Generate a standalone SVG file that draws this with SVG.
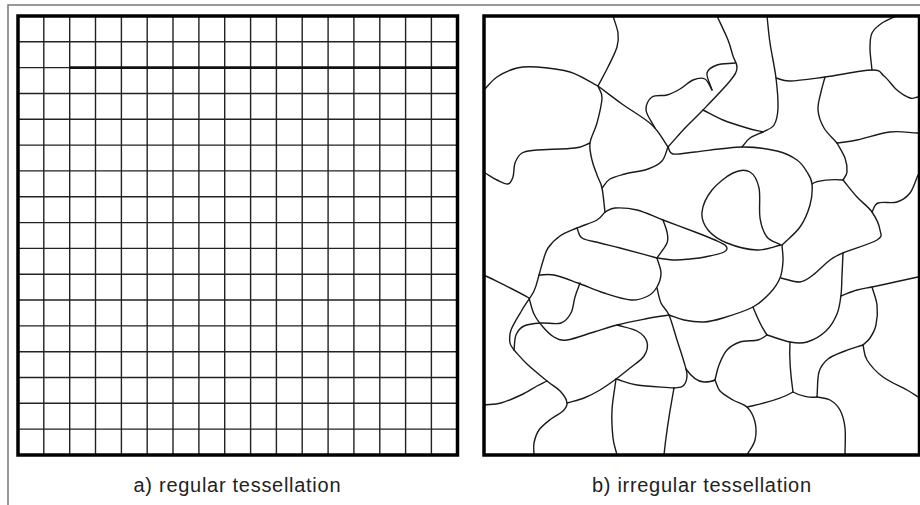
<svg xmlns="http://www.w3.org/2000/svg" width="920" height="505" viewBox="0 0 920 505">
<style>
.frame{fill:none;stroke:#777;stroke-width:1.5}
.border{fill:none;stroke:#000;stroke-width:3.5}
.grid{fill:none;stroke:#222;stroke-width:1.4}
.thick{fill:none;stroke:#111;stroke-width:2.6}
.edge{fill:none;stroke:#1a1a1a;stroke-width:1.4;stroke-linecap:round;stroke-linejoin:round}
.label{font-family:"Liberation Sans",Arial,Helvetica,sans-serif;font-size:20px;fill:#222;text-anchor:middle}
</style>
<rect width="920" height="505" fill="#fff"/>
<g id="frame"><path class="frame" d="M8,505V5H920"/></g>
<g id="panel-a">
<path class="grid" d="M43.8,16V455M69.7,16V455M95.5,16V455M121.4,16V455M147.2,16V455M173,16V455M198.9,16V455M224.7,16V455M250.6,16V455M276.4,16V455M302.2,16V455M328.1,16V455M353.9,16V455M379.8,16V455M405.6,16V455M431.4,16V455M18,41.8H457M18,67.6H457M18,93.5H457M18,119.3H457M18,145.1H457M18,170.9H457M18,196.7H457M18,222.6H457M18,248.4H457M18,274.2H457M18,300H457M18,325.9H457M18,351.7H457M18,377.5H457M18,403.3H457M18,429.1H457"/>
<path class="thick" d="M69.7,67.6H457"/>
<rect class="border" x="18" y="16" width="439.5" height="439"/>
</g>
<g id="panel-b">
<g id="edges">
<path class="edge" d="M613,16 C614.7,21.7 617.3,27.8 618,33 S618.7,41.3 617,47 S611.2,60.5 608,67 S601.3,79.7 598,86"/>
<path class="edge" d="M484,90 C488.3,85.7 491.5,80.7 497,77 S510.3,69.7 517,68 S528.2,66.3 537,67 S559.8,68.8 570,72 S588.7,81.3 598,86"/>
<path class="edge" d="M598,86 C599.3,90 602.2,91.8 602,98 S599,115.5 597,123 S590.8,136.8 590,143 S590.8,154.7 592,160 S595.3,170.3 597,175 S600.7,181.8 602,188 S604,204 605,212"/>
<path class="edge" d="M590,143 C585,144.7 583.8,146.8 575,148 S545.8,149.2 537,150 S525.7,150.8 522,153 S516.5,159 515,163 S514.2,173.5 513,177 S510.7,183.5 508,184 S500.8,181.8 497,180 S489,175.3 485,173"/>
<path class="edge" d="M598,86 C606,92 613,97.5 622,104 S644.3,117.8 652,125 S662.7,139.7 668,147"/>
<path class="edge" d="M735,63 C729,63.7 721.7,63.3 717,65 S707.8,68.8 707,73 S710.3,84.3 712,90"/>
<path class="edge" d="M712,90 C709.7,86.3 708.2,80.7 705,79 S697.2,78.3 693,80 S684.3,86.5 680,89 S671.7,93.7 667,95 S655.5,94.5 652,97 S645.5,104.8 646,110 S652,122 655,128"/>
<path class="edge" d="M717,16 C720.7,24 725.3,33.3 728,40 S731.5,51.3 733,56 S737.5,63.8 737,68 S735.7,74 730,81 S710.5,102.2 703,110 S690.8,121.8 685,128 S673.7,140.7 668,147"/>
<path class="edge" d="M703,110 C709.7,113.3 715.7,117 723,120 S740.3,126 747,128 S757.7,130.7 763,132"/>
<path class="edge" d="M763,132 C758.7,134 753.5,135.5 750,138 S744.7,144 742,147"/>
<path class="edge" d="M668,147 C669.7,149.3 668.5,153.2 673,154 S683.5,153.2 695,152 S728.3,147.2 742,147 S767.8,148.8 777,151 S792,156.5 797,160 S804.5,168 807,172 S811.5,178.5 812,184 S812,197.8 810,205 S804.7,220.3 800,227 S788,239 782,245"/>
<path class="edge" d="M812,184 C817,180 833,179 843,180"/>
<path class="edge" d="M837,143 C839.7,148 843.3,153.2 845,158 S847.3,168.3 847,172 S844.3,177.3 843,180"/>
<path class="edge" d="M843,180 C847.7,185.7 852.2,191.7 857,197 S868.2,206.5 872,212 S879.2,225.3 880,230 S883.2,236.2 877,240 S850.8,249.7 843,253 S835,256.3 830,260 S818,271.3 813,275 S805.3,281.5 800,282 S787.3,279.3 781,278"/>
<path class="edge" d="M872,212 C874,209 873.8,204.7 878,203 S891.7,203.7 897,202 S906.5,197.5 910,193 S915.3,181 918,175"/>
<path class="edge" d="M663,220 C664.3,224 666.3,228.2 667,232 S668.7,238.7 667,243 S660.3,253 657,258"/>
<path class="edge" d="M668,147 C666,151.7 665.3,157.3 662,161 S654.2,166.8 648,169 S631.3,172.3 625,174 S613.8,176.7 610,179 S604.7,185 602,188"/>
<path class="edge" d="M605,212 C608.3,210.7 609.7,208.3 615,208 S629,208 637,210 S653.3,216.3 663,220 S686.3,228.7 695,232 S709.8,237.7 715,240 S724.5,244 726,246 S727.5,250.2 724,252 S710.7,255.8 705,257 S695,258.5 690,259 S680.5,260.2 675,260 S663,258.7 657,258"/>
<path class="edge" d="M605,212 C602.3,214.7 601.7,217.3 597,220 S583.2,225.3 577,228 S564.8,232.7 560,236 S550.8,243.8 548,248 S544.5,256.5 543,261 S540.5,270 539,275 S536.8,285.2 534,291 S525.8,303.5 522,310 S513,324.5 511,330 S509.5,339.7 510,343 S512.7,347.7 514,350"/>
<path class="edge" d="M514,350 C518.3,354.7 521.5,358.8 527,364 S541.3,376.3 547,381 S557.7,388.3 561,392 S566.7,399.8 567,403 S565.7,408.3 563,411 S555,415.8 551,419 S541.8,426 539,430 S534.8,438.8 534,443 S534,451 534,455"/>
<path class="edge" d="M577,228 C578.7,231.3 578.2,235.5 582,238 S593.7,241.3 600,243 S610.5,245.5 620,248 S644.7,254.7 657,258"/>
<path class="edge" d="M539,275 C544,275 547.5,273.7 554,275 S569.7,280 578,283 S595.2,290.2 604,293 S623.7,299.5 631,300 S643.7,298.2 648,296 S654.8,290.8 657,287 S661,277.8 661,273 S658.3,263 657,258"/>
<path class="edge" d="M657,288 C658.3,293 659,298.5 661,303 S666.3,308.8 669,315 S674.5,332.2 677,340 S682.3,356 684,362 S687.2,372 687,376 S685.2,384 683,386 S677,387.3 674,388"/>
<path class="edge" d="M686,369 C691,376 697,382 704,382 C709,382 713,381 715,380"/>
<path class="edge" d="M484,275 C500,283 515,290 529,298"/>
<path class="edge" d="M529,298 C530.7,303.3 531.7,309.2 534,314 S539.7,323.2 543,327 S550,334.8 554,337 S560.3,340.8 567,340 S585.7,334.5 594,332 S608.5,327.2 617,325 S636.3,320.7 645,319 S661,316.3 669,315"/>
<path class="edge" d="M580,283 C578.3,287.7 576.5,292 575,297 S573.3,308.7 571,313 S566,321.3 561,323 S547.2,322.5 541,323 S528.2,324 524,326 S517.7,331 516,335 S514.7,345 514,350"/>
<path class="edge" d="M617,325 C623.7,327 632,328.2 637,331 S645.8,337.8 647,342 S646.8,351.7 644,356 S634.7,364.2 630,368 S621,375.3 616,379 S605.3,386.8 600,390 S589.5,395.8 584,398 S572.7,401.3 567,403"/>
<path class="edge" d="M484,405 C489.7,404.3 494.8,404.7 501,403 S515,397.8 521,395 S532.7,388.3 537,386 S543.7,382.7 547,381"/>
<path class="edge" d="M616,379 C614.7,389.3 612.5,400.2 612,410 S612.2,430.5 613,438 S615.7,449.3 617,455"/>
<path class="edge" d="M616,379 C623,381 627.3,383.5 637,385 S661.7,387 674,388"/>
<path class="edge" d="M674,388 C671,405 667,425 664,455"/>
<path class="edge" d="M669,315 C674,316.7 678.2,318.8 684,320 S697.5,322.3 704,322 S714.8,320.5 723,318 S745.2,311.2 753,307 S765.5,297.8 770,293 S777.8,283.3 780,278 S782.7,266.5 783,261 S782.3,250.3 782,245"/>
<path class="edge" d="M781,245 C776.3,242.3 770.5,241.5 767,237 S761.3,226.2 760,218 S760.7,195.7 759,188 S754.3,174.5 750,172 S739.3,170 733,173 S717.2,183.5 712,190 S702.7,205.3 702,212 S703.8,224.8 708,230 S718.8,239.7 727,243 S748,249.7 757,250 S773,246.7 781,245"/>
<path class="edge" d="M753,307 C757,317 760,325 767,335"/>
<path class="edge" d="M767,335 C774.7,337.3 783.3,340.8 790,342 S801,343.8 807,342 S821,335.7 826,331 S834.5,320 837,314 S840.2,301.5 841,295 S841.7,282 842,275 S842.7,260.3 843,253"/>
<path class="edge" d="M767,335 C764,336.7 762.5,338.8 758,340 S745.2,340.3 740,342 S730.5,346.2 727,350 S721,360 719,365 S716.3,375 715,380"/>
<path class="edge" d="M715,380 C716.7,383.7 717,387.7 720,391 S728.5,397.3 733,400 S743.3,403.3 747,407 S753.7,416.5 755,422 S756.3,434.5 755,440 S749.7,450 747,455"/>
<path class="edge" d="M747,407 C760,404 778,401 793,392"/>
<path class="edge" d="M793,392 C800,396 810,398 817,397"/>
<path class="edge" d="M790,342 C789,358 791,378 793,392"/>
<path class="edge" d="M817,397 C817.7,388.7 817.2,378.3 819,372 S823.7,362.5 828,359 S839.2,353.3 845,351 S857,347 863,345"/>
<path class="edge" d="M817,397 C821.3,398 826.2,397.8 830,400 S837.5,405.3 840,410 S844.2,420.5 845,428 S845,446 845,455"/>
<path class="edge" d="M863,345 C864.3,350 863.7,354.7 867,360 S876.3,372 883,377 S901.2,386.7 907,390 S914.3,394.7 918,397"/>
<path class="edge" d="M872,287 C873.7,293 876.3,298.7 877,305 S877.2,319.5 876,325 S872.2,334.7 870,338 S865.3,342.7 863,345"/>
<path class="edge" d="M841,296 C846.3,294 851.8,291.5 857,290 S865.7,288.3 872,287 S887.3,283.7 895,282 S910.3,278.7 918,277"/>
<path class="edge" d="M837,143 C843.7,142 848.2,141.8 857,140 S879.8,133.2 890,132 S908.7,132.7 918,133"/>
<path class="edge" d="M837,143 C832.7,138 827.2,133.5 824,128 S818.5,116 818,110 S819.8,97.5 821,92 S823.7,82 825,77"/>
<path class="edge" d="M776,78 C780.7,79 781.8,81.2 790,81 S811.3,78.8 825,77 S862.2,70.2 872,70 S879.8,72.7 884,76 S892.7,86.3 897,90 S906.5,96.8 910,98 S915.3,97.3 918,97"/>
<path class="edge" d="M872,70 C871.3,62.7 870,54.2 870,48 S870,37.2 872,33 S878,25.8 882,23 S891.3,18.3 896,16"/>
<path class="edge" d="M767,16 C768,25 768.5,32.7 770,43 S774.7,67.2 776,78 S778.3,100.2 778,108 S776.5,121 774,125 S766.7,129.7 763,132"/>
</g>
<rect class="border" x="484" y="16" width="435.5" height="439"/>
</g>
<g id="labels">
<text class="label" x="237" y="491.5" textLength="207" lengthAdjust="spacing">a) regular tessellation</text>
<text class="label" x="701.5" y="491.5" textLength="219" lengthAdjust="spacing">b) irregular tessellation</text>
</g>
</svg>
